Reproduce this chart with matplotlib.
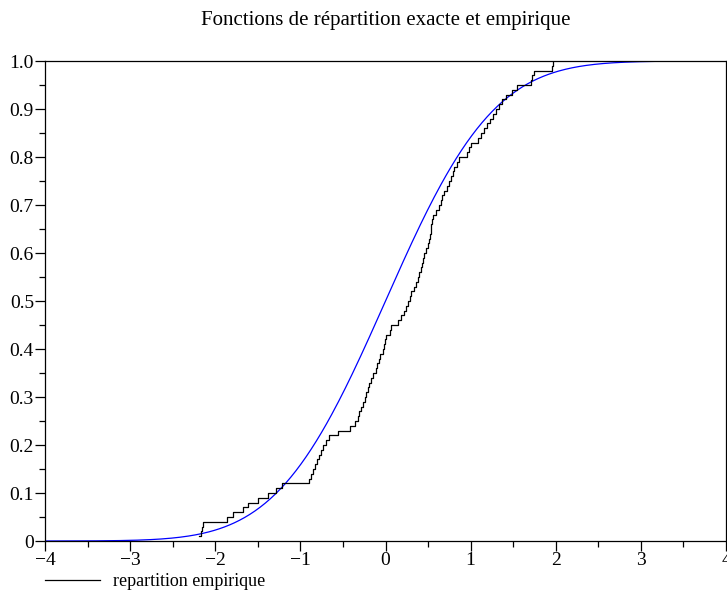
import math
import numpy as np
import matplotlib
matplotlib.use("Agg")
import matplotlib.pyplot as plt
from matplotlib.lines import Line2D
from matplotlib.ticker import MultipleLocator, FixedLocator

# ---- data ----
title = "Fonctions de répartition exacte et empirique"
legend_label = "repartition empirique"

# sorted sample values read from the empirical step function (n = 100)
samples = [
    -2.194, -2.170, -2.158, -2.147, -1.865, -1.795, -1.677, -1.619, -1.501, -1.384,
    -1.290, -1.220, -0.903, -0.880, -0.856, -0.833, -0.809, -0.786, -0.762, -0.739,
    -0.704, -0.669, -0.563, -0.422, -0.364, -0.328, -0.311, -0.287, -0.270, -0.246,
    -0.229, -0.211, -0.194, -0.176, -0.141, -0.111, -0.094, -0.082, -0.070, -0.035,
    -0.018, -0.006, 0.008, 0.047, 0.070, 0.152, 0.184, 0.223, 0.240, 0.262,
    0.282, 0.301, 0.340, 0.358, 0.379, 0.399, 0.416, 0.434, 0.446, 0.457,
    0.481, 0.499, 0.516, 0.528, 0.534, 0.540, 0.545, 0.555, 0.595, 0.633,
    0.651, 0.663, 0.692, 0.727, 0.751, 0.771, 0.792, 0.809, 0.839, 0.868,
    0.962, 0.985, 1.005, 1.091, 1.126, 1.161, 1.196, 1.232, 1.267, 1.302,
    1.337, 1.372, 1.419, 1.490, 1.548, 1.713, 1.718, 1.748, 1.953, 1.971,
]
mu = 0.0
sigma = 1.0
x_range = (-4, 4)
x_ticks = [-4, -3, -2, -1, 0, 1, 2, 3, 4]
x_tick_labels = ["\u22124", "\u22123", "\u22122", "\u22121", "0", "1", "2", "3", "4"]
y_ticks = [0, 0.1, 0.2, 0.3, 0.4, 0.5, 0.6, 0.7, 0.8, 0.9, 1.0]
y_tick_labels = ["0", "0.1", "0.2", "0.3", "0.4", "0.5", "0.6", "0.7", "0.8", "0.9", "1.0"]

# ---- figure ----
plt.rcParams["font.family"] = ["Liberation Serif", "DejaVu Serif"]
fig = plt.figure(figsize=(7.27, 5.90), dpi=100)
ax = fig.add_axes([45 / 727, 1 - 541 / 590, 681 / 727, 480 / 590])

# exact CDF
xs = np.linspace(x_range[0], x_range[1], 400)
ys = [0.5 * (1 + math.erf((v - mu) / (sigma * math.sqrt(2)))) for v in xs]
ax.plot(xs, ys, color="#0000ff", lw=0.9)

# empirical CDF
n = len(samples)
fy = [(i + 1) / n for i in range(n)]
ax.step(samples, fy, where="post", color="black", lw=0.9)

ax.set_xlim(*x_range)
ax.set_ylim(0, 1)
ax.xaxis.set_major_locator(FixedLocator(x_ticks))
ax.set_xticklabels(x_tick_labels)
ax.xaxis.set_minor_locator(MultipleLocator(0.5))
ax.yaxis.set_major_locator(FixedLocator(y_ticks))
ax.set_yticklabels(y_tick_labels)
ax.yaxis.set_minor_locator(MultipleLocator(0.05))
ax.tick_params(which="major", direction="out", length=7, width=0.9, labelsize=14, pad=1)
ax.tick_params(which="minor", direction="out", length=4, width=0.9)
for s in ax.spines.values():
    s.set_linewidth(0.9)

fig.text(386 / 727, 1 - 20 / 590, title, ha="center", va="center", fontsize=15)

# legend below the axes
fig.add_artist(Line2D([45 / 727, 100 / 727], [1 - 580 / 590, 1 - 580 / 590],
                      transform=fig.transFigure, color="black", lw=0.9))
fig.text(113 / 727, 1 - 581 / 590, legend_label, ha="left", va="center", fontsize=13)

fig.savefig("out.png", dpi=100)
